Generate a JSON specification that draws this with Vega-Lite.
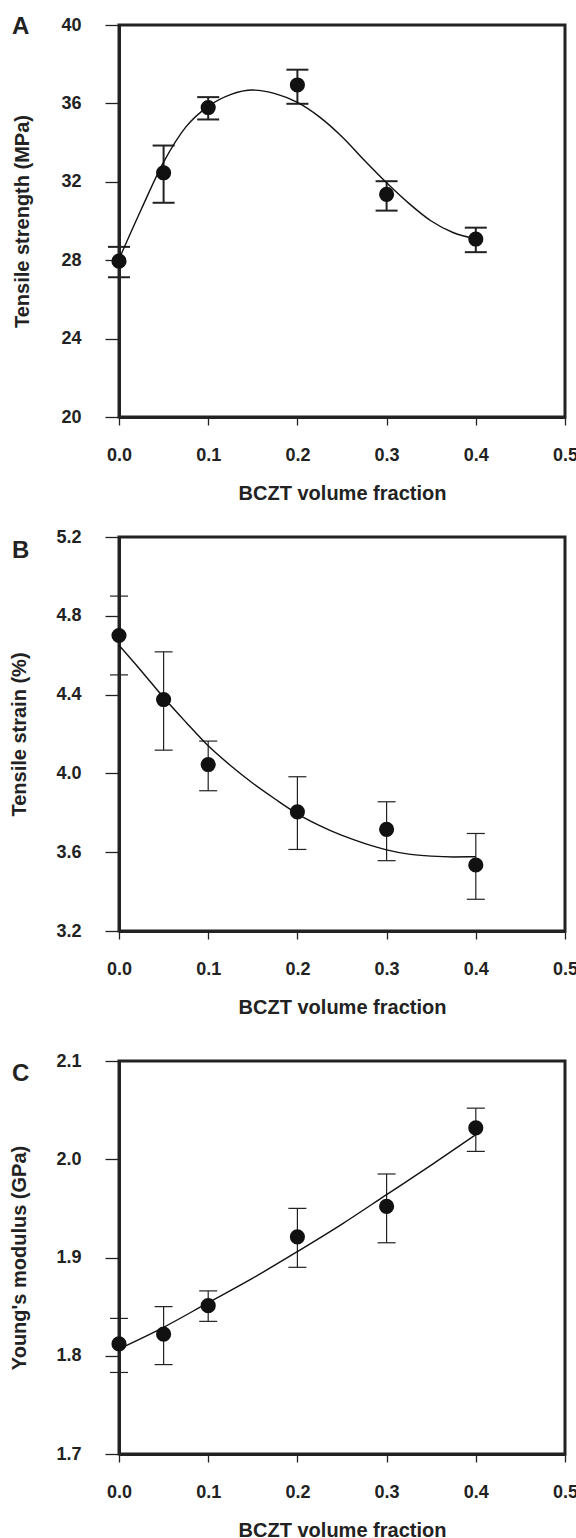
{
  "$schema": "https://vega.github.io/schema/vega-lite/v6.json",
  "padding": {"left": 8, "top": 13, "right": 0, "bottom": 0},
  "datasets": {
    "a_pts": [
      {"x": 0.0, "y": 27.95, "lo": 27.13, "hi": 28.68},
      {"x": 0.05, "y": 32.46, "lo": 30.93, "hi": 33.85},
      {"x": 0.1, "y": 35.79, "lo": 35.18, "hi": 36.32},
      {"x": 0.2, "y": 36.94, "lo": 35.98, "hi": 37.72},
      {"x": 0.3, "y": 31.36, "lo": 30.53, "hi": 32.03},
      {"x": 0.4, "y": 29.08, "lo": 28.41, "hi": 29.66}
    ],
    "a_fit": [
      {"x": 0.0, "y": 28.05}, {"x": 0.025, "y": 30.6}, {"x": 0.05, "y": 33.0}, {"x": 0.075, "y": 34.8},
      {"x": 0.1, "y": 35.85}, {"x": 0.125, "y": 36.45}, {"x": 0.15, "y": 36.68}, {"x": 0.175, "y": 36.5},
      {"x": 0.2, "y": 36.05}, {"x": 0.225, "y": 35.3}, {"x": 0.25, "y": 34.3}, {"x": 0.275, "y": 33.1},
      {"x": 0.3, "y": 31.95}, {"x": 0.325, "y": 30.9}, {"x": 0.35, "y": 30.0}, {"x": 0.375, "y": 29.4},
      {"x": 0.4, "y": 29.1}
    ],
    "b_pts": [
      {"x": 0.0, "y": 4.70, "lo": 4.50, "hi": 4.90},
      {"x": 0.05, "y": 4.375, "lo": 4.118, "hi": 4.617},
      {"x": 0.1, "y": 4.045, "lo": 3.912, "hi": 4.164},
      {"x": 0.2, "y": 3.805, "lo": 3.614, "hi": 3.983},
      {"x": 0.3, "y": 3.716, "lo": 3.557, "hi": 3.856},
      {"x": 0.4, "y": 3.535, "lo": 3.361, "hi": 3.695}
    ],
    "b_fit": [
      {"x": 0.0, "y": 4.65}, {"x": 0.025, "y": 4.52}, {"x": 0.05, "y": 4.385}, {"x": 0.075, "y": 4.26},
      {"x": 0.1, "y": 4.14}, {"x": 0.125, "y": 4.04}, {"x": 0.15, "y": 3.95}, {"x": 0.175, "y": 3.87},
      {"x": 0.2, "y": 3.795}, {"x": 0.225, "y": 3.735}, {"x": 0.25, "y": 3.685}, {"x": 0.275, "y": 3.645},
      {"x": 0.3, "y": 3.612}, {"x": 0.325, "y": 3.59}, {"x": 0.35, "y": 3.58}, {"x": 0.375, "y": 3.576},
      {"x": 0.4, "y": 3.577}
    ],
    "c_pts": [
      {"x": 0.0, "y": 1.812, "lo": 1.783, "hi": 1.838},
      {"x": 0.05, "y": 1.822, "lo": 1.791, "hi": 1.850},
      {"x": 0.1, "y": 1.851, "lo": 1.835, "hi": 1.866},
      {"x": 0.2, "y": 1.921, "lo": 1.890, "hi": 1.950},
      {"x": 0.3, "y": 1.952, "lo": 1.915, "hi": 1.985},
      {"x": 0.4, "y": 2.032, "lo": 2.008, "hi": 2.052}
    ],
    "c_fit": [
      {"x": 0.0, "y": 1.807}, {"x": 0.05, "y": 1.829}, {"x": 0.1, "y": 1.854}, {"x": 0.15, "y": 1.879},
      {"x": 0.2, "y": 1.906}, {"x": 0.25, "y": 1.934}, {"x": 0.3, "y": 1.964}, {"x": 0.35, "y": 1.994},
      {"x": 0.4, "y": 2.025}
    ]
  },
  "bounds": "flush",
  "spacing": 120,
  "vconcat": [
    {
      "width": 446,
      "height": 392,
      "title": {"text": "A", "dy": 27},
      "layer": [
        {
          "data": {"name": "a_pts"},
          "mark": {"type": "rule", "strokeWidth": 2, "color": "#222"},
          "encoding": {
            "x": {"field": "x", "type": "quantitative", "scale": {"domain": [0, 0.5], "nice": false}, "axis": {"values": [0, 0.1, 0.2, 0.3, 0.4, 0.5], "format": ".1f", "title": "BCZT volume fraction", "tickSize": 8, "labelPadding": 21, "titlePadding": 19}},
            "y": {"field": "lo", "type": "quantitative", "scale": {"domain": [20, 40], "nice": false, "zero": false}, "axis": {"values": [20, 24, 28, 32, 36, 40], "format": "d", "title": "Tensile strength (MPa)", "tickSize": 14, "labelPadding": 24, "titlePadding": 28}},
            "y2": {"field": "hi"}
          }
        },
        {
          "data": {"name": "a_pts"},
          "mark": {"type": "tick", "orient": "horizontal", "size": 22, "thickness": 2, "color": "#222", "opacity": 1},
          "encoding": {"x": {"field": "x", "type": "quantitative"}, "y": {"field": "lo", "type": "quantitative"}}
        },
        {
          "data": {"name": "a_pts"},
          "mark": {"type": "tick", "orient": "horizontal", "size": 22, "thickness": 2, "color": "#222", "opacity": 1},
          "encoding": {"x": {"field": "x", "type": "quantitative"}, "y": {"field": "hi", "type": "quantitative"}}
        },
        {
          "data": {"name": "a_fit"},
          "mark": {"type": "line", "interpolate": "monotone", "strokeWidth": 1.4, "color": "#111"},
          "encoding": {"x": {"field": "x", "type": "quantitative"}, "y": {"field": "y", "type": "quantitative"}}
        },
        {
          "data": {"name": "a_pts"},
          "mark": {"type": "circle", "size": 230, "color": "#111", "opacity": 1},
          "encoding": {"x": {"field": "x", "type": "quantitative"}, "y": {"field": "y", "type": "quantitative"}}
        }
      ]
    },
    {
      "bounds": "flush",
      "spacing": 130,
      "vconcat": [
        {
          "width": 446,
          "height": 394,
          "title": {"text": "B", "dy": 39},
          "layer": [
            {
              "data": {"name": "b_pts"},
              "mark": {"type": "rule", "strokeWidth": 1.2, "color": "#222"},
              "encoding": {
                "x": {"field": "x", "type": "quantitative", "scale": {"domain": [0, 0.5], "nice": false}, "axis": {"values": [0, 0.1, 0.2, 0.3, 0.4, 0.5], "format": ".1f", "title": "BCZT volume fraction", "tickSize": 8, "labelPadding": 21, "titlePadding": 19}},
                "y": {"field": "lo", "type": "quantitative", "scale": {"domain": [3.2, 5.2], "nice": false, "zero": false}, "axis": {"values": [3.2, 3.6, 4.0, 4.4, 4.8, 5.2], "format": ".1f", "title": "Tensile strain (%)", "tickSize": 14, "labelPadding": 24, "titlePadding": 26}},
                "y2": {"field": "hi"}
              }
            },
            {
              "data": {"name": "b_pts"},
              "mark": {"type": "tick", "orient": "horizontal", "size": 18, "thickness": 1.2, "color": "#222", "opacity": 1},
              "encoding": {"x": {"field": "x", "type": "quantitative"}, "y": {"field": "lo", "type": "quantitative"}}
            },
            {
              "data": {"name": "b_pts"},
              "mark": {"type": "tick", "orient": "horizontal", "size": 18, "thickness": 1.2, "color": "#222", "opacity": 1},
              "encoding": {"x": {"field": "x", "type": "quantitative"}, "y": {"field": "hi", "type": "quantitative"}}
            },
            {
              "data": {"name": "b_fit"},
              "mark": {"type": "line", "interpolate": "monotone", "strokeWidth": 1.4, "color": "#111"},
              "encoding": {"x": {"field": "x", "type": "quantitative"}, "y": {"field": "y", "type": "quantitative"}}
            },
            {
              "data": {"name": "b_pts"},
              "mark": {"type": "circle", "size": 230, "color": "#111", "opacity": 1},
              "encoding": {"x": {"field": "x", "type": "quantitative"}, "y": {"field": "y", "type": "quantitative"}}
            }
          ]
        },
        {
          "width": 446,
          "height": 393,
          "title": {"text": "C", "dy": 38},
          "layer": [
            {
              "data": {"name": "c_pts"},
              "mark": {"type": "rule", "strokeWidth": 1.2, "color": "#222"},
              "encoding": {
                "x": {"field": "x", "type": "quantitative", "scale": {"domain": [0, 0.5], "nice": false}, "axis": {"values": [0, 0.1, 0.2, 0.3, 0.4, 0.5], "format": ".1f", "title": "BCZT volume fraction", "tickSize": 8, "labelPadding": 21, "titlePadding": 19}},
                "y": {"field": "lo", "type": "quantitative", "scale": {"domain": [1.7, 2.1], "nice": false, "zero": false}, "axis": {"values": [1.7, 1.8, 1.9, 2.0, 2.1], "format": ".1f", "title": "Young's modulus (GPa)", "tickSize": 14, "labelPadding": 24, "titlePadding": 26}},
                "y2": {"field": "hi"}
              }
            },
            {
              "data": {"name": "c_pts"},
              "mark": {"type": "tick", "orient": "horizontal", "size": 18, "thickness": 1.2, "color": "#222", "opacity": 1},
              "encoding": {"x": {"field": "x", "type": "quantitative"}, "y": {"field": "lo", "type": "quantitative"}}
            },
            {
              "data": {"name": "c_pts"},
              "mark": {"type": "tick", "orient": "horizontal", "size": 18, "thickness": 1.2, "color": "#222", "opacity": 1},
              "encoding": {"x": {"field": "x", "type": "quantitative"}, "y": {"field": "hi", "type": "quantitative"}}
            },
            {
              "data": {"name": "c_fit"},
              "mark": {"type": "line", "interpolate": "monotone", "strokeWidth": 1.4, "color": "#111"},
              "encoding": {"x": {"field": "x", "type": "quantitative"}, "y": {"field": "y", "type": "quantitative"}}
            },
            {
              "data": {"name": "c_pts"},
              "mark": {"type": "circle", "size": 230, "color": "#111", "opacity": 1},
              "encoding": {"x": {"field": "x", "type": "quantitative"}, "y": {"field": "y", "type": "quantitative"}}
            }
          ]
        }
      ]
    }
  ],
  "config": {
    "font": "Liberation Sans",
    "background": "white",
    "view": {"stroke": "#222", "strokeWidth": 3},
    "axis": {
      "grid": false,
      "domainColor": "#222",
      "domainWidth": 3,
      "tickColor": "#222",
      "tickWidth": 1.3,
      "labelFont": "Liberation Sans",
      "labelFontSize": 18,
      "labelFontWeight": "bold",
      "labelColor": "#222",
      "labelFlush": false,
      "labelOverlap": false,
      "titleFont": "Liberation Sans",
      "titleFontSize": 20,
      "titleFontWeight": "bold",
      "titleColor": "#222"
    },
    "title": {
      "anchor": "start",
      "frame": "group",
      "orient": "top",
      "dx": -107,
      "offset": 0,
      "baseline": "top",
      "font": "Liberation Sans",
      "fontSize": 24,
      "fontWeight": "bold",
      "color": "#222"
    }
  }
}
